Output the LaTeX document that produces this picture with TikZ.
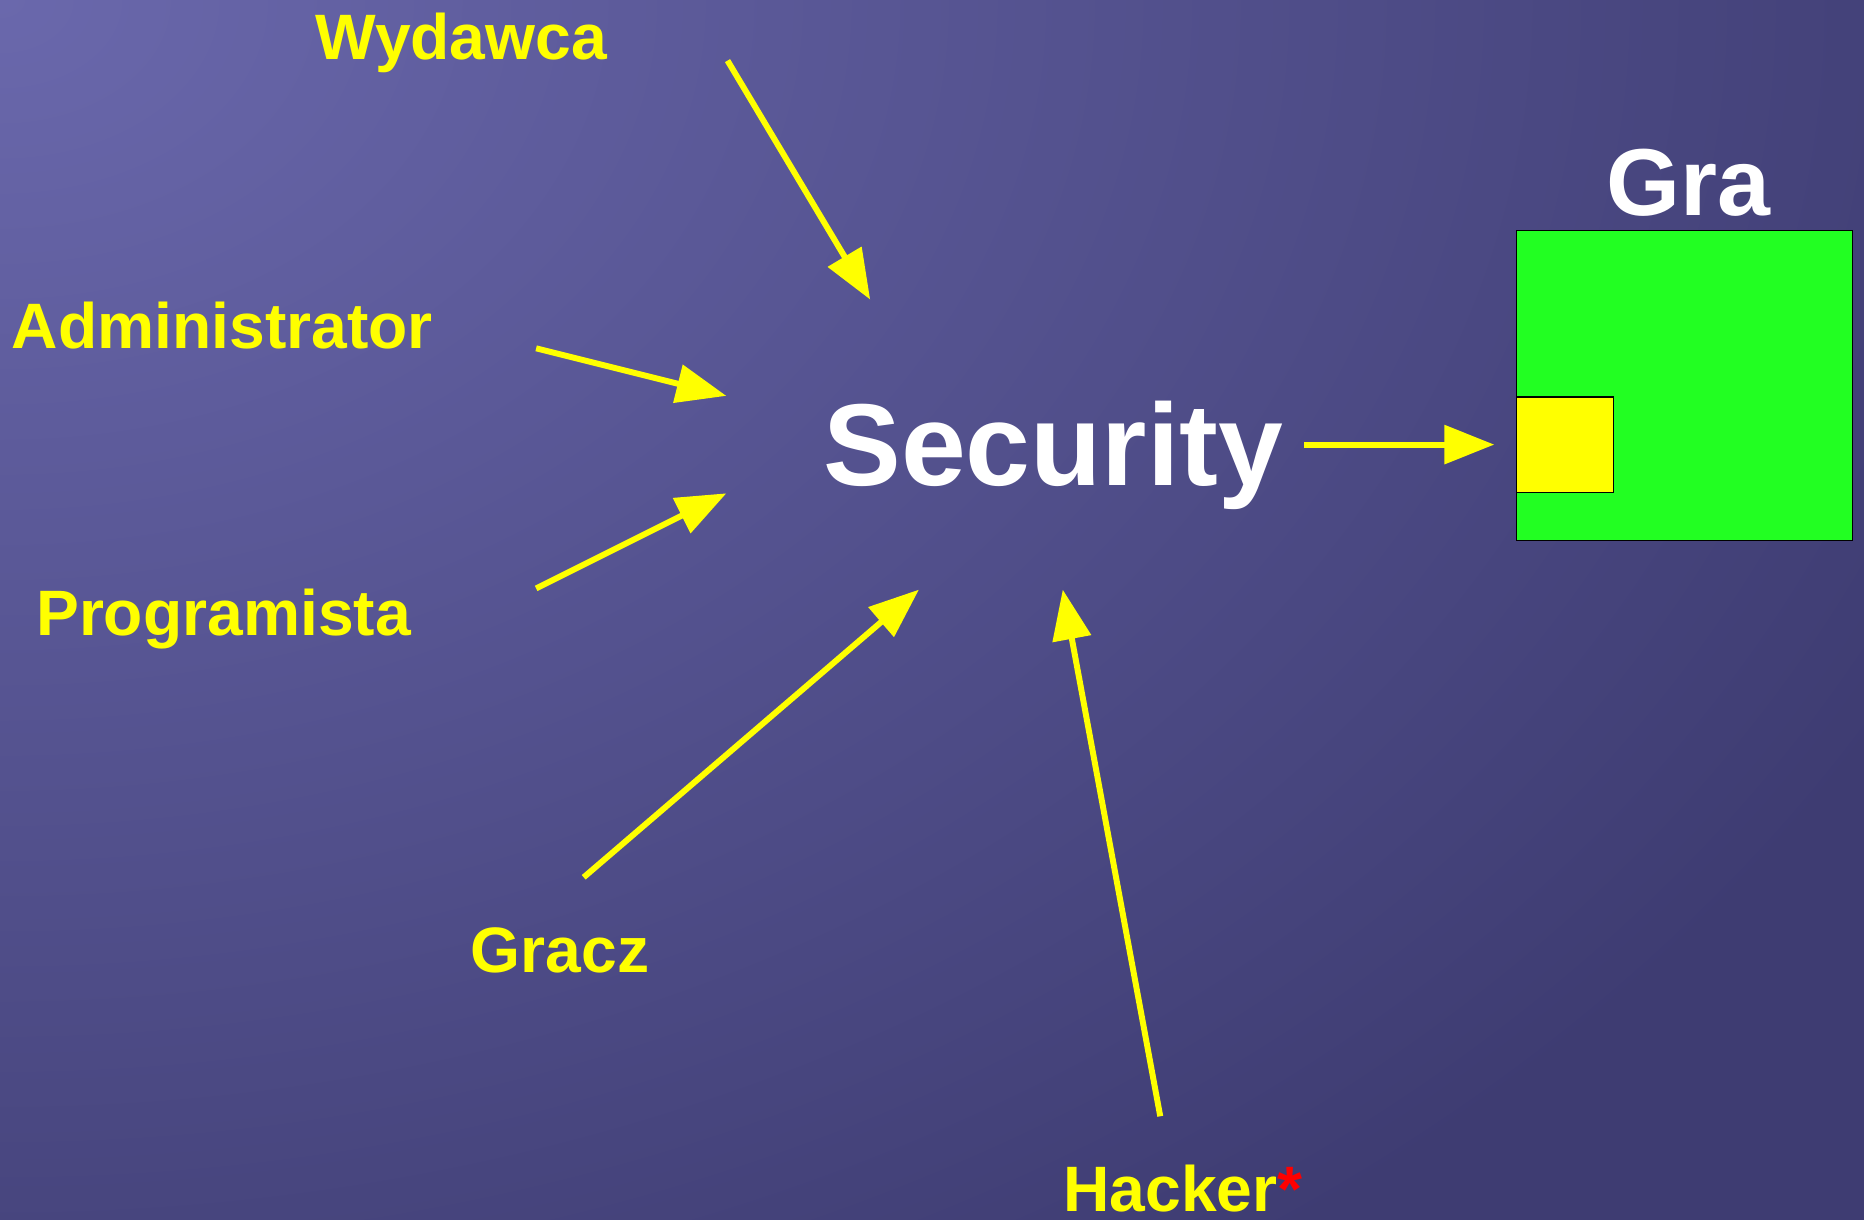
\documentclass[tikz,border=0pt]{standalone}
\usepackage{fontspec}
\setmainfont{Liberation Sans}
\usetikzlibrary{arrows.meta}
\definecolor{bgdark}{RGB}{62,60,114}
\definecolor{bglight}{RGB}{106,104,172}
\definecolor{gragreen}{RGB}{34,255,34}
\definecolor{ylw}{RGB}{255,255,0}
\begin{document}
\begin{tikzpicture}[x=0.5pt,y=-0.5pt,
  actor/.style={text=ylw,font=\fontsize{27}{32}\selectfont\bfseries,anchor=base,inner sep=0pt},
  bigtitle/.style={text=white,anchor=base,inner sep=0pt},
  yarrow/.style={draw=ylw,line width=2.5pt,-{Triangle[length=21pt,width=16pt]}},
  box/.style={draw=black,line width=0.5pt}]
\useasboundingbox (0,0) rectangle (1568,1026);
% background
\fill[bgdark] (0,0) rectangle (1568,1026);
\begin{scope}
  \clip (0,0) rectangle (1568,1026);
  \shade[inner color=bglight,outer color=bgdark] (0,0) ellipse[x radius=1800,y radius=1300];
\end{scope}
% game box
\draw[box,fill=gragreen] (1276,194) rectangle (1558,455);
\draw[box,fill=ylw] (1276,334) rectangle (1357,414);
\coordinate (graIn) at (1257,374);
% texts
\node[bigtitle,font=\fontsize{49}{58}\selectfont\bfseries] (sec) at (886,408) {Security};
\node[bigtitle,font=\fontsize{40}{48}\selectfont\bfseries] (gra) at (1420,181) {Gra};
\node[actor] (wyd) at (388,50) {Wydawca};
\node[actor] (adm) at (187,293) {Administrator};
\node[actor] (prog) at (188,535) {Programista};
\node[actor] (gracz) at (471,818) {Gracz};
\node[actor] (hack) at (995,1019) {Hacker\textcolor{red}{*}};
% arrow end points
\coordinate (wydS) at (612,51);   \coordinate (wydE) at (732,252);
\coordinate (admS) at (451,293);  \coordinate (admE) at (611,333);
\coordinate (progS) at (451,495); \coordinate (progE) at (611,415);
\coordinate (grS) at (491,738);   \coordinate (grE) at (773,496);
\coordinate (hkS) at (976,939);   \coordinate (hkE) at (894,496);
\coordinate (secS) at (1097,374);
% arrows
\draw[yarrow] (wydS) -- (wydE);
\draw[yarrow] (admS) -- (admE);
\draw[yarrow] (progS) -- (progE);
\draw[yarrow] (grS) -- (grE);
\draw[yarrow] (hkS) -- (hkE);
\draw[yarrow] (secS) -- (graIn);
\end{tikzpicture}
\end{document}
